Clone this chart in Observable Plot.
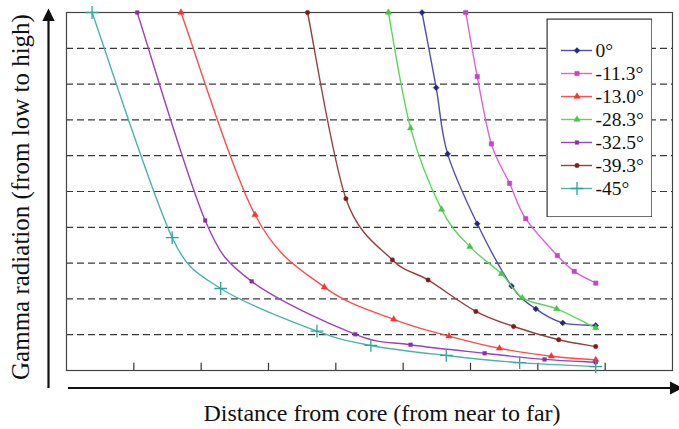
<!DOCTYPE html>
<html>
<head>
<meta charset="utf-8">
<script src="https://cdn.jsdelivr.net/npm/d3@7"></script>
<script src="https://cdn.jsdelivr.net/npm/@observablehq/plot@0.6"></script>
<style>
  html, body { margin: 0; padding: 0; background: #fff; }
  #wrap { position: relative; width: 679px; height: 429px; font-family: "Liberation Serif", "Times New Roman", serif; }
  #wrap svg text { font-family: "Liberation Serif", "Times New Roman", serif !important; }
  #legend { position: absolute; left: 546px; top: 18px; }
</style>
</head>
<body>
<div id="wrap">
  <div id="chart"></div>
  <div id="legend"></div>
</div>
<script>
// ---- Data (arbitrary units: distance 0..9, gamma 0..10) ----
const seriesNames = ["0°", "-11.3°", "-13.0°", "-28.3°", "-32.5°", "-39.3°", "-45°"];

const x_0   = [5.28, 5.49, 5.66, 6.10, 6.61, 6.97, 7.37, 7.86];
const y_0   = [10.0, 7.90, 6.05, 4.10, 2.36, 1.72, 1.33, 1.26];

const x_113 = [5.93, 6.10, 6.31, 6.58, 6.82, 7.29, 7.54, 7.86];
const y_113 = [10.0, 8.21, 6.33, 5.23, 4.24, 3.21, 2.77, 2.44];

const x_130 = [1.70, 2.80, 3.83, 4.86, 5.68, 6.43, 7.20, 7.86];
const y_130 = [10.0, 4.35, 2.33, 1.43, 0.96, 0.62, 0.40, 0.30];

const x_283 = [4.78, 5.11, 5.57, 5.99, 6.46, 6.77, 7.28, 7.86];
const y_283 = [10.0, 6.77, 4.50, 3.46, 2.70, 2.03, 1.72, 1.19];

const x_325 = [1.05, 2.06, 2.75, 4.29, 5.11, 6.21, 7.10, 7.86];
const y_325 = [10.0, 4.19, 2.49, 1.01, 0.72, 0.48, 0.31, 0.23];

const x_393 = [3.58, 4.15, 4.84, 5.37, 6.08, 6.64, 7.31, 7.86];
const y_393 = [10.0, 4.80, 3.09, 2.53, 1.65, 1.23, 0.86, 0.67];

const x_45  = [0.38, 1.57, 2.29, 3.72, 4.52, 5.64, 6.73, 7.86];
const y_45  = [10.0, 3.71, 2.29, 1.10, 0.70, 0.42, 0.22, 0.11];

const gridValues = [1, 2, 3, 4, 5, 6, 7, 8, 9];
const tickValues = [1, 2, 3, 4, 5, 6, 7, 8];

const xTitle = "Distance from core (from near to far)";
const yTitle = "Gamma radiation (from low to high)";

// ---- Styles ----
const lineColors   = ["#5050aa", "#d865d8", "#ff4c4c", "#5cd65c", "#9c42b8", "#934040", "#4cb2ac"];
const markerColors = ["#26267e", "#c446c4", "#ff3030", "#44c844", "#8a2ea6", "#7e1c1c", "#2fa39c"];
const symbols      = ["diamond2", "square2", "triangle2", "triangle2", "square2", "circle", "plus"];
const symbolR      = [2.6, 2.8, 3.0, 3.0, 2.3, 2.2, 4.2];

const xs = [x_0, x_113, x_130, x_283, x_325, x_393, x_45];
const ys = [y_0, y_113, y_130, y_283, y_325, y_393, y_45];

const seriesData = seriesNames.map((name, i) =>
  xs[i].map((x, j) => ({series: name, x, y: ys[i][j]}))
);

const font = "'Liberation Serif', 'Times New Roman', serif";

// Spreadsheet-style smoothed line: Bezier segments with Catmull-Rom tangents,
// handles capped at half the segment length.
function smoothCurve(context) {
  let pts;
  return {
    areaStart() {}, areaEnd() {},
    lineStart() { pts = []; },
    point(x, y) { pts.push([+x, +y]); },
    lineEnd() {
      const n = pts.length;
      if (!n) return;
      context.moveTo(pts[0][0], pts[0][1]);
      if (n === 1) return;
      const tan = pts.map((p, i) => {
        const a = pts[Math.max(i - 1, 0)], b = pts[Math.min(i + 1, n - 1)];
        return [(b[0] - a[0]) / 6, (b[1] - a[1]) / 6];
      });
      for (let i = 0; i < n - 1; i++) {
        const p = pts[i], q = pts[i + 1];
        const half = Math.hypot(q[0] - p[0], q[1] - p[1]) / 2;
        const sc = t => { const L = Math.hypot(t[0], t[1]); return L > half && L > 0 ? half / L : 1; };
        const t0 = tan[i], t1 = tan[i + 1], s0 = sc(t0), s1 = sc(t1);
        context.bezierCurveTo(p[0] + t0[0] * s0, p[1] + t0[1] * s0,
                              q[0] - t1[0] * s1, q[1] - t1[1] * s1, q[0], q[1]);
      }
    }
  };
}

(function () {
  // ---- Main chart ----
  const marks = [
    Plot.ruleY(gridValues, {stroke: "#3a3a3a", strokeWidth: 1.2, strokeDasharray: "7,4"}),
    Plot.ruleX(tickValues, {y1: 0, y2: 0.2, stroke: "#333", strokeWidth: 1.2}),
    Plot.frame({stroke: "#444", strokeWidth: 1.2})
  ];
  seriesData.forEach((d, i) => {
    marks.push(Plot.line(d, {x: "x", y: "y", stroke: lineColors[i], strokeWidth: 1.4, curve: smoothCurve}));
    const isStroke = symbols[i] === "plus";
    marks.push(Plot.dot(d, {
      x: "x", y: "y", symbol: () => symbols[i], r: symbolR[i],
      fill: isStroke ? "none" : markerColors[i],
      stroke: markerColors[i], strokeWidth: isStroke ? 1.3 : 0.5
    }));
  });

  const chart = Plot.plot({
    width: 679,
    height: 429,
    marginLeft: 66,
    marginRight: 7,
    marginTop: 12,
    marginBottom: 59,
    x: {domain: [0, 9], axis: null},
    y: {domain: [0, 10], axis: null},
    symbol: {type: "identity"},
    style: {fontFamily: font, background: "white", overflow: "visible"},
    marks
  });
  document.getElementById("chart").appendChild(chart);

  // Decorations: axis arrows and titles, positioned from the plot's scales
  const sx = chart.scale("x"), sy = chart.scale("y");
  const svg = d3.select(chart);
  const pLeft = sx.apply(0), pBottom = sy.apply(0), pTop = sy.apply(10);
  const g = svg.append("g");
  // y arrow
  const ax = pLeft - 17.5, ayBottom = pBottom + 18;
  g.append("line").attr("x1", ax).attr("x2", ax).attr("y1", ayBottom).attr("y2", pTop + 6)
    .attr("stroke", "#111").attr("stroke-width", 2.2);
  g.append("path").attr("d", `M${ax},${pTop - 3.5} L${ax - 6.2},${pTop + 9} L${ax + 6.2},${pTop + 9} Z`).attr("fill", "#111");
  // x arrow
  const axY = pBottom + 18;
  g.append("line").attr("x1", pLeft + 2).attr("x2", 672).attr("y1", axY).attr("y2", axY)
    .attr("stroke", "#111").attr("stroke-width", 2.2);
  g.append("path").attr("d", `M683,${axY} L670,${axY - 6.5} L670,${axY + 6.5} Z`).attr("fill", "#111");
  // titles
  g.append("text").attr("x", 382).attr("y", 421).attr("text-anchor", "middle")
    .attr("font-size", 24).attr("fill", "#111").attr("font-family", font).text(xTitle);
  g.append("text").attr("transform", `translate(20,${(pTop + pBottom) / 2 + 6}) rotate(-90)`)
    .attr("text-anchor", "middle").attr("dominant-baseline", "central")
    .attr("font-size", 25).attr("fill", "#111").attr("font-family", font).text(yTitle);

  // ---- Legend (its own small Plot) ----
  const legendMarks = [
    Plot.frame({stroke: "#333", strokeWidth: 1.2, inset: 0.6})
  ];
  seriesNames.forEach((name, i) => {
    legendMarks.push(Plot.ruleY([name], {y: d => d, x1: 15, x2: 46, stroke: lineColors[i], strokeWidth: 1.4}));
    const isStroke = symbols[i] === "plus";
    legendMarks.push(Plot.dot([name], {
      x: 30.5, y: d => d, symbol: () => symbols[i], r: symbolR[i],
      fill: isStroke ? "none" : markerColors[i], stroke: markerColors[i], strokeWidth: isStroke ? 1.3 : 0.5
    }));
  });
  legendMarks.push(Plot.text(seriesNames, {
    x: 49, y: d => d, text: d => d, textAnchor: "start", fontSize: 19.5, fill: "#111", fontFamily: font
  }));
  const legend = Plot.plot({
    width: 106,
    height: 199,
    margin: 0,
    x: {domain: [0, 106], range: [0, 106], axis: null},
    y: {type: "point", domain: seriesNames, range: [17, 184], axis: null},
    symbol: {type: "identity"},
    style: {fontFamily: font, background: "white"},
    marks: legendMarks
  });
  document.getElementById("legend").appendChild(legend);
})();
</script>
</body>
</html>
